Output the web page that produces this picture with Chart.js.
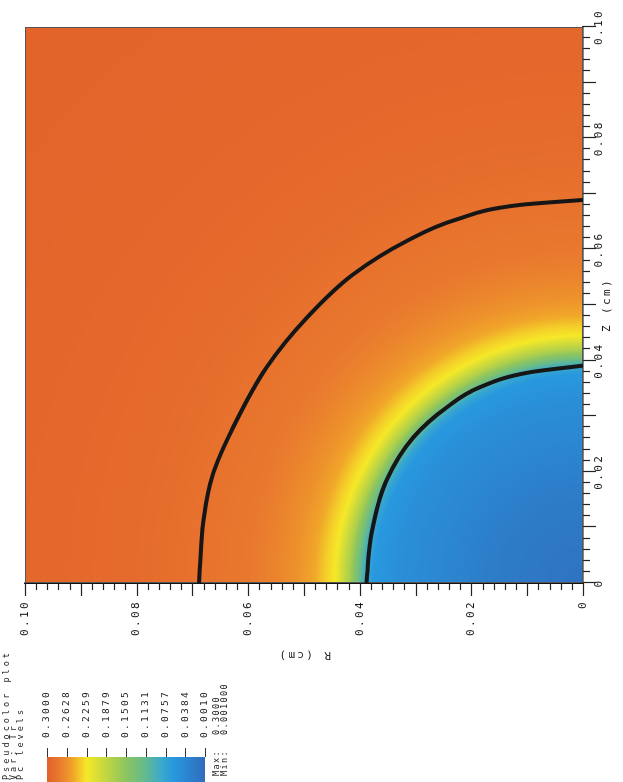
<!DOCTYPE html>
<html><head><meta charset="utf-8">
<script src="https://cdn.jsdelivr.net/npm/chart.js@4.4.1/dist/chart.umd.min.js"></script>
<style>
html,body{margin:0;padding:0;background:#fff;overflow:hidden;width:623px;height:782px;}
#wrap{position:absolute;left:0;top:0;width:782px;height:623px;transform-origin:0 0;transform:translate(0px,782px) rotate(-90deg);}
canvas{display:block;}
</style></head><body>
<div id="wrap"><canvas id="c" width="782" height="623"></canvas></div>
<script>
// ---- data (original orientation: Z horizontal, R vertical) ----
// radial profile of Tr versus distance from origin sqrt(Z^2+R^2) in cm
const profileRadius = [0, 0.015, 0.025, 0.033, 0.0375, 0.0388, 0.0395, 0.0405, 0.042, 0.0445, 0.046, 0.048, 0.051, 0.055, 0.060, 0.069, 0.080, 0.100, 0.1415];
const profileTr     = [0.0100, 0.0219, 0.0369, 0.0488, 0.0608, 0.0787, 0.0990, 0.1326, 0.1744, 0.2253, 0.2342, 0.2492, 0.2611, 0.2701, 0.2776, 0.2836, 0.2895, 0.2940, 0.2970];
// contour lines (Z, R) in cm
const outerContourZ = [0, 0.0113, 0.0197, 0.0280, 0.0388, 0.0477, 0.0555, 0.0615, 0.0654, 0.0680, 0.0689];
const outerContourR = [0.0688, 0.0680, 0.0663, 0.0627, 0.0567, 0.0495, 0.0412, 0.0316, 0.0226, 0.0113, 0];
const innerContourZ = [0, 0.0089, 0.0185, 0.0262, 0.0316, 0.0352, 0.0379, 0.0391];
const innerContourR = [0.0388, 0.0379, 0.0352, 0.0304, 0.0244, 0.0185, 0.0095, 0];
// legend
const legendLevels = ['0.3000','0.2628','0.2259','0.1879','0.1505','0.1131','0.0757','0.0384','0.0010'];
const trMax = 0.3, trMin = 0.001;
const legendTitle = ['Pseudocolor plot', 'Var: Tr', 'Pc levels'];
const maxMinLabels = ['Max:', 'Min:'];
const maxMinValues = ['0.3000', '0.001000'];
const axisMin = 0, axisMax = 0.1, minorStep = 0.002;

// colour table (fraction from max to min)
const cmapPos = [0.00, 0.08, 0.16, 0.25, 0.36, 0.50, 0.62, 0.72, 0.80, 1.00];
const cmapCol = [[226,96,42],[233,122,46],[240,162,42],[246,232,40],[200,216,62],[140,196,96],[100,186,142],[60,170,202],[40,152,222],[48,108,188]];

function lerp(a,b,t){return a+(b-a)*t;}
function colorFor(v){
  let f = (trMax - v)/(trMax - trMin);
  f = Math.max(0, Math.min(1, f));
  for (let i=1;i<cmapPos.length;i++){
    if (f <= cmapPos[i]){
      const t=(f-cmapPos[i-1])/(cmapPos[i]-cmapPos[i-1]);
      const a=cmapCol[i-1], b=cmapCol[i];
      return [lerp(a[0],b[0],t),lerp(a[1],b[1],t),lerp(a[2],b[2],t)];
    }
  }
  return cmapCol[cmapCol.length-1];
}
function trAt(r){
  for (let i=1;i<profileRadius.length;i++){
    if (r <= profileRadius[i]){
      const t=(r-profileRadius[i-1])/(profileRadius[i]-profileRadius[i-1]);
      return lerp(profileTr[i-1], profileTr[i], t);
    }
  }
  return profileTr[profileTr.length-1];
}

const MONO = '"DejaVu Sans Mono", "Liberation Mono", monospace';

const fieldPlugin = {
  id: 'field',
  beforeDraw(chart){ chart.ctx.letterSpacing = '2.4px'; },
  beforeDatasetsDraw(chart){
    const {ctx, chartArea:a, scales:{x, y}} = chart;
    const w = Math.round(a.right - a.left), h = Math.round(a.bottom - a.top);
    const img = ctx.createImageData(w, h);
    for (let py=0; py<h; py++){
      const R = y.getValueForPixel(a.top + py + 0.5);
      for (let px=0; px<w; px++){
        const Z = x.getValueForPixel(a.left + px + 0.5);
        const c = colorFor(trAt(Math.hypot(Z, R)));
        const k = (py*w + px)*4;
        img.data[k]=c[0]; img.data[k+1]=c[1]; img.data[k+2]=c[2]; img.data[k+3]=255;
      }
    }
    ctx.putImageData(img, Math.round(a.left), Math.round(a.top));
    ctx.save();
    ctx.strokeStyle = '#555'; ctx.lineWidth = 1;
    ctx.strokeRect(Math.round(a.left)+0.5, Math.round(a.top)+0.5, w-1, h-1);
    ctx.restore();
  },
  afterDraw(chart){
    const {ctx, chartArea:a, scales:{x, y}} = chart;
    ctx.save();
    ctx.strokeStyle = '#222'; ctx.lineWidth = 1.2;
    // tick marks
    x.ticks.forEach(t => {
      const k = Math.round(t.value/minorStep);
      const len = (k%5===0) ? 13 : 7;
      const px = Math.round(x.getPixelForValue(t.value))+0.5;
      ctx.beginPath(); ctx.moveTo(px, a.bottom); ctx.lineTo(px, a.bottom+len); ctx.stroke();
    });
    y.ticks.forEach(t => {
      const k = Math.round(t.value/minorStep);
      const len = (k%5===0) ? 13 : 7;
      const py = Math.round(y.getPixelForValue(t.value))+0.5;
      ctx.beginPath(); ctx.moveTo(a.left, py); ctx.lineTo(a.left-len, py); ctx.stroke();
    });
    // legend
    ctx.fillStyle = '#222';
    ctx.font = '8.5px ' + MONO;
    ctx.letterSpacing = '3px';
    ctx.textAlign = 'left'; ctx.textBaseline = 'middle';
    legendTitle.forEach((s,i) => ctx.fillText(s, 2, 6.5 + i*7.3));
    const barTop = 47, barBot = 205, barL = 0, barR = 25;
    const g = ctx.createLinearGradient(0, barTop, 0, barBot);
    for (let i=0;i<cmapPos.length;i++){
      const c = cmapCol[i];
      g.addColorStop(cmapPos[i], `rgb(${c[0]},${c[1]},${c[2]})`);
    }
    ctx.fillStyle = g;
    ctx.fillRect(barL, barTop, barR-barL, barBot-barTop);
    ctx.strokeStyle = '#333'; ctx.lineWidth = 1;
    ctx.font = '9.5px ' + MONO;
    ctx.letterSpacing = '2.3px';
    ctx.fillStyle = '#222';
    legendLevels.forEach((s,i) => {
      const v = barTop + i*(barBot-barTop)/(legendLevels.length-1);
      const vy = Math.round(v)+0.5;
      ctx.beginPath(); ctx.moveTo(barR, vy); ctx.lineTo(barR+9, vy); ctx.stroke();
      ctx.fillText(s, 44, v);
    });
    ctx.font = '8.5px ' + MONO;
    ctx.letterSpacing = '1.4px';
    maxMinLabels.forEach((s,i) => {
      ctx.fillText(s, 6, 217 + i*8);
      ctx.fillText(maxMinValues[i], 47, 217 + i*8);
    });
    ctx.restore();
  }
};

function tickLabel(v){
  const k = Math.round(v/minorStep);
  if (k % 10 !== 0) return '';
  return k === 0 ? '0' : (k*minorStep).toFixed(2);
}

new Chart(document.getElementById('c'), {
  type: 'scatter',
  data: {
    datasets: [
      { label: 'outer', data: outerContourZ.map((z,i)=>({x:z, y:outerContourR[i]})), showLine: true, borderColor: '#161616', borderWidth: 4, pointRadius: 0, cubicInterpolationMode: 'monotone' },
      { label: 'inner', data: innerContourZ.map((z,i)=>({x:z, y:innerContourR[i]})), showLine: true, borderColor: '#161616', borderWidth: 4, pointRadius: 0, cubicInterpolationMode: 'monotone' }
    ]
  },
  options: {
    responsive: false,
    animation: false,
    devicePixelRatio: 1,
    layout: { padding: { left: 0, top: 25, right: 27, bottom: 0 } },
    plugins: { legend: { display: false }, tooltip: { enabled: false } },
    scales: {
      x: {
        type: 'linear', position: 'bottom', min: axisMin, max: axisMax,
        grid: { display: false, drawTicks: false },
        border: { display: true, color: '#111', width: 1.5 },
        ticks: { stepSize: minorStep, autoSkip: false, maxRotation: 0, minRotation: 0, padding: 10, color: '#1a1a1a',
                 font: { family: MONO, size: 11 }, callback: tickLabel },
        title: { display: true, text: 'Z (cm)', color: '#1a1a1a', font: { family: MONO, size: 11 }, padding: { top: 0, bottom: 9 } },
        afterFit: s => { s.height = 40; }
      },
      y: {
        type: 'linear', position: 'left', min: axisMin, max: axisMax,
        grid: { display: false, drawTicks: false },
        border: { display: true, color: '#111', width: 1.5 },
        ticks: { stepSize: minorStep, autoSkip: false, padding: 17, color: '#1a1a1a',
                 font: { family: MONO, size: 11 }, callback: tickLabel },
        title: { display: true, text: 'R (cm)', color: '#1a1a1a', font: { family: MONO, size: 11 }, padding: { top: 121, bottom: 0 } },
        afterFit: s => { s.width = 199; }
      }
    }
  },
  plugins: [fieldPlugin]
});
</script>
</body></html>
